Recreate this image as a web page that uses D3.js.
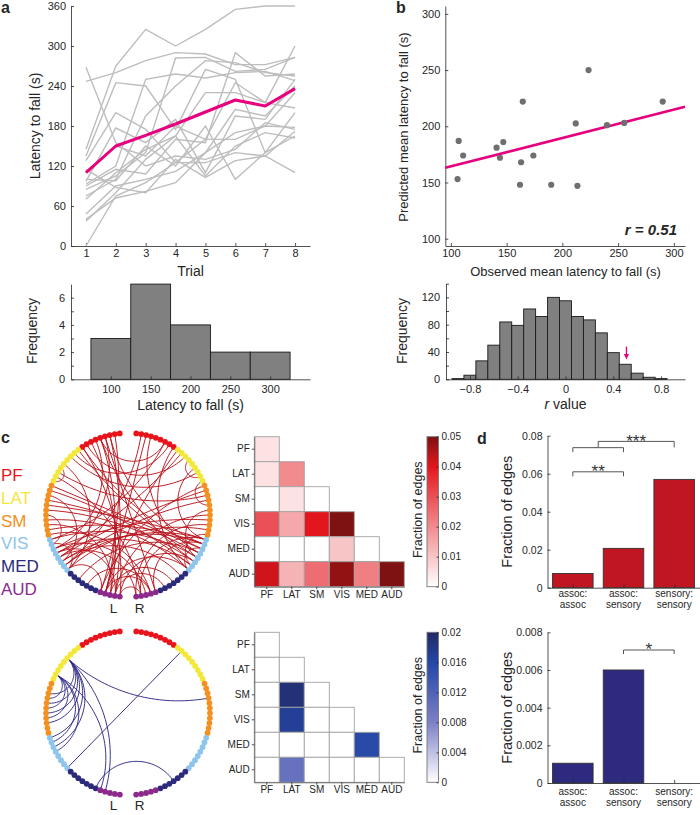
<!DOCTYPE html>
<html><head><meta charset="utf-8">
<script src="https://cdn.jsdelivr.net/npm/d3@7"></script>
<style>
body{margin:0;background:#fff;}
svg{font-family:"Liberation Sans",Arial,sans-serif;}
</style></head><body>
<svg id="fig" width="700" height="815"></svg>
<script>
// ---------------- DATA ----------------
const trials = [1,2,3,4,5,6,7,8];
const trialLatency = [
  [247,260,278,290,288,272,272,283],
  [145,270,325,300,325,355,360,360],
  [268,155,120,135,130,145,185,175],
  [135,245,240,175,265,250,140,200],
  [128,200,175,125,160,245,215,300],
  [97,177,155,190,110,195,190,250],
  [93,120,250,258,252,260,262,248],
  [90,115,108,160,155,290,255,258],
  [85,105,140,282,283,262,265,283],
  [75,100,195,240,278,275,260,255],
  [70,110,145,165,230,230,215,207],
  [48,90,100,112,140,205,195,240],
  [40,72,82,95,140,170,180,178],
  [37,80,130,165,105,150,170,162],
  [0,75,95,125,125,140,135,172],
  [115,88,80,130,103,128,135,110],
  [100,98,150,120,180,100,140,165],
  [110,150,135,180,160,160,180,230]
];
const meanLatency = [110,150,166,183,201,219,210,236];
const latencyBinEdges = [75,125,175,225,275,325];
const latencyBinCounts = [3,7,4,2,2];

const observedMean = [106,107,111,141,144,147,162,163,164.5,174,190,212,213.5,223.5,240,255.5,290];
const predictedMean = [153,187,174,181,172,186,148,168,222,174,148,202.5,147,250,201,203,222];
const fitX = [95,310];
const fitY = [163.1,217.3];
const rLabel = "r = 0.51";
const rObserved = 0.51;
const rBinCenters = [-0.9,-0.8,-0.7,-0.6,-0.5,-0.4,-0.3,-0.2,-0.1,0,0.1,0.2,0.3,0.4,0.5,0.6,0.7,0.8];
const rBinCounts = [1,6,27,50,84,79,103,92,120,115,92,87,68,39,22,9,3,1];

const regions = ["PF","LAT","SM","VIS","MED","AUD"];
const regionColors = ["#e8141c","#f3e83a","#f39020","#8ec5ec","#2c2a7c","#8c2a8c"];
const nodesPerRegion = [9,9,11,8,7,5];

const redEdges = [
"lP4 rP6",
"lP7 rT2","rP7 lT1",
"lT2 rT6","lT5 lT8","rT3 rT7",
"lT6 rS2","rT8 rS4",
"lP2 rV1","lP3 lV4","lP4 rV5","lP5 lV2","rP1 lV6","rP3 rV3","rP6 lV0","rP8 rV7","lP8 rV2",
"lT0 rV4","lT4 lV7","rT1 lV3","rT5 rV0",
"lS0 rV2","lS1 rV6","lS2 lV5","lS3 rV3","lS4 rV0","lS5 rV5","lS6 lV1","lS7 rV7","lS9 rV1","rS1 lV4","rS3 lV6","rS5 rV4","rS7 lV2","rS9 lV7","rS10 rV6",
"lV0 rV4","lV3 rV6","lV5 rV1","rV2 rV7","lV1 lV7","rV0 lV6",
"lM2 rV3","rM1 lV5",
"lA0 lP1","lA1 lP4","lA2 lP6","lA3 lP2","lA4 lP8","rA0 lP3","lA1 rP2",
"lA1 rT0","rA3 lT7",
"lA2 lS8","lA3 rS6","rA1 lS10","rA4 rS8","lA0 rS0",
"lA4 rV5","lA3 lV3","rA0 rV1","rA2 lV2","lA1 rV7","rA3 rV0","lA0 lV7","rA4 lV4",
"lA2 rM3","rA1 lM4","lA3 rM5",
"lA1 rA1","lA4 rA3"
];
const blueEdges = [
"lT3 lS2","lT3 lS4","lT3 lS6","lT3 lS8","lT7 lS3","lT7 lS5","lT7 lS7","lT3 rS3",
"lT3 lV0","lT3 lV2","lT7 lV1","lT7 lV3","rT1 lV7",
"lT7 lA0","lT3 lA1",
"lM6 rM3"
];

const redMatrix = [
  [0.005],
  [0.005,0.02],
  [0,0.005,0],
  [0.03,0.015,0.04,0.05],
  [0,0,0,0.01,0],
  [0.042,0.013,0.025,0.048,0.022,0.05]
];
const blueMatrix = [
  [0],
  [0,0],
  [0,0.019,0],
  [0,0.017,0,0],
  [0,0,0,0,0.0155],
  [0,0.01,0,0,0,0]
];
const redTicks = [0,0.01,0.02,0.03,0.04,0.05];
const blueTicks = [0,0.004,0.008,0.012,0.016,0.02];

const barCategories = [["assoc:","assoc"],["assoc:","sensory"],["sensory:","sensory"]];
const redBars = [0.0075,0.0207,0.057];
const blueBars = [0.00105,0.006,0];
const redTickVals = [0,0.02,0.04,0.06,0.08];
const blueTickVals = [0,0.002,0.004,0.006,0.008];
const redSig = [
  {x1:1,x2:2,y:0.061,drop:4.5,label:"**"},
  {x1:1,x2:2,y:0.0737,drop:4.5,label:""},
  {x1:1.5,x2:3,y:0.077,drop:6,label:"***"}
];
const blueSig = [
  {x1:2,x2:3,y:0.00706,drop:4,label:"*"}
];

// ---------------- DRAW ----------------
const svg = d3.select("#fig");
const ink = "#262626";
const magenta = "#e6007e";

function styleAxis(g, gen, fs){
  g.call(gen);
  g.attr("font-family",null).attr("font-size",null);
  g.select(".domain").attr("stroke",ink).attr("stroke-width",0.8);
  g.selectAll(".tick line").attr("stroke",ink).attr("stroke-width",0.8);
  g.selectAll(".tick text").attr("fill",ink).attr("font-size",fs);
  return g;
}
function text(x,y,t,fs,opts={}){
  const el = svg.append("text").attr("x",x).attr("y",y).attr("font-size",fs)
    .attr("fill",opts.fill||ink).attr("text-anchor",opts.anchor||"start").text(t);
  if(opts.weight) el.attr("font-weight",opts.weight);
  if(opts.style) el.attr("font-style",opts.style);
  return el;
}
function vtext(x,y,t,fs){
  return svg.append("text").attr("transform",`translate(${x},${y}) rotate(-90)`)
    .attr("text-anchor","middle").attr("dy","0.35em").attr("font-size",fs).attr("fill",ink).text(t);
}

// panel labels
text(1,13,"a",16,{weight:"bold"});
text(396,13,"b",16,{weight:"bold"});
text(1,443,"c",16,{weight:"bold"});
text(477,444,"d",16,{weight:"bold"});

// ----- Panel a -----
const xA = d3.scaleLinear([0.5,8.5],[71,310]);
const yA = d3.scaleLinear([0,360],[246,6]);
styleAxis(svg.append("g").attr("transform","translate(71,0)"),
  d3.axisLeft(yA).tickValues(d3.range(0,361,60)).tickSizeInner(-3).tickSizeOuter(0).tickPadding(5),11);
styleAxis(svg.append("g").attr("transform","translate(0,246)"),
  d3.axisBottom(xA).tickValues(trials).tickSizeInner(-3).tickSizeOuter(0).tickPadding(3),11);
const lineA = d3.line().x((d,i)=>xA(trials[i])).y(d=>yA(d));
svg.append("g").selectAll("path").data(trialLatency).join("path")
  .attr("d",lineA).attr("fill","none").attr("stroke","#bdbdbd").attr("stroke-width",1.4);
svg.append("path").datum(meanLatency).attr("d",lineA).attr("fill","none")
  .attr("stroke",magenta).attr("stroke-width",3).attr("stroke-linejoin","round");
vtext(35,126,"Latency to fall (s)",14);
text(190.5,276,"Trial",14,{anchor:"middle"});

// histogram a
const xH = d3.scaleLinear([50,350],[71,310]);
const yH = d3.scaleLinear([0,7],[379.3,284.1]);
svg.append("g").selectAll("rect").data(latencyBinCounts).join("rect")
  .attr("x",(d,i)=>xH(latencyBinEdges[i])).attr("width",(d,i)=>xH(latencyBinEdges[i+1])-xH(latencyBinEdges[i]))
  .attr("y",d=>yH(d)).attr("height",d=>yH(0)-yH(d))
  .attr("fill","#808080").attr("stroke","#1a1a1a").attr("stroke-width",0.9);
styleAxis(svg.append("g").attr("transform","translate(71,0)"),
  d3.axisLeft(yH).tickValues(d3.range(0,7)).tickFormat(d=>d%2===0?d:"").tickSizeInner(-3).tickSizeOuter(0).tickPadding(6),11);
styleAxis(svg.append("g").attr("transform","translate(0,379.3)"),
  d3.axisBottom(xH).tickValues([100,150,200,250,300]).tickSizeInner(-3).tickSizeOuter(0).tickPadding(6),11);
vtext(32,331,"Frequency",14);
text(190.5,410,"Latency to fall (s)",14,{anchor:"middle"});

// ----- Panel b -----
const xB = d3.scaleLinear([95,310],[445.3,685]);
const yB = d3.scaleLinear([93.5,307],[246,6]);
styleAxis(svg.append("g").attr("transform","translate(445.3,0)"),
  d3.axisLeft(yB).tickValues([100,150,200,250,300]).tickSizeInner(-3).tickSizeOuter(0).tickPadding(5),11);
styleAxis(svg.append("g").attr("transform","translate(0,246)"),
  d3.axisBottom(xB).tickValues([100,150,200,250,300]).tickSizeInner(-3).tickSizeOuter(0).tickPadding(3),11);
svg.append("line").attr("x1",xB(fitX[0])).attr("y1",yB(fitY[0])).attr("x2",xB(fitX[1])).attr("y2",yB(fitY[1]))
  .attr("stroke",magenta).attr("stroke-width",2.6);
svg.append("g").selectAll("circle").data(observedMean).join("circle")
  .attr("cx",d=>xB(d)).attr("cy",(d,i)=>yB(predictedMean[i])).attr("r",3.1).attr("fill","#6f6f6f");
text(677,235,rLabel,15,{anchor:"end",weight:"bold",style:"italic"});
vtext(403,127,"Predicted mean latency to fall (s)",13);
text(565.5,276,"Observed mean latency to fall (s)",13,{anchor:"middle"});

// histogram b
const xR = d3.scaleLinear([-1,1],[446,685]);
const yR = d3.scaleLinear([0,140],[379.3,283.7]);
svg.append("g").selectAll("rect").data(rBinCounts).join("rect")
  .attr("x",(d,i)=>xR(rBinCenters[i]-0.05)).attr("width",(d,i)=>xR(rBinCenters[i]+0.05)-xR(rBinCenters[i]-0.05))
  .attr("y",d=>yR(d)).attr("height",d=>yR(0)-yR(d))
  .attr("fill","#808080").attr("stroke","#1a1a1a").attr("stroke-width",0.9);
styleAxis(svg.append("g").attr("transform","translate(446,0)"),
  d3.axisLeft(yR).tickValues(d3.range(0,141,20)).tickFormat(d=>d%40===0?d:"").tickSizeInner(-3).tickSizeOuter(0).tickPadding(6),11);
styleAxis(svg.append("g").attr("transform","translate(0,379.3)"),
  d3.axisBottom(xR).tickValues([-0.8,-0.4,0,0.4,0.8]).tickFormat(d=>d===0?"0":d3.format(".1f")(d).replace("-","\u2212")).tickSizeInner(-3).tickSizeOuter(0).tickPadding(6),11);
vtext(402,331,"Frequency",14);
{
  const t = text(565.5,409,"",14,{anchor:"middle"});
  t.append("tspan").attr("font-style","italic").text("r");
  t.append("tspan").text(" value");
}
// arrow
{
  const ax = xR(rObserved);
  svg.append("line").attr("x1",ax).attr("x2",ax).attr("y1",346.5).attr("y2",355).attr("stroke",magenta).attr("stroke-width",1.3);
  svg.append("path").attr("d",`M${ax-2.6},${354} L${ax+2.6},${354} L${ax},${359.5} Z`).attr("fill",magenta);
}

// ----- Panel c: circular graphs -----
const regionCode = {P:0,T:1,S:2,V:3,M:4,A:5};
const startDeg = 5.8, stepDeg = 3.51;
const regionOffset = nodesPerRegion.map((n,i)=>d3.sum(nodesPerRegion.slice(0,i)));
function unitPos(hemi, r, k){
  const a = (startDeg + (regionOffset[r]+k)*stepDeg)*Math.PI/180;
  return [(hemi==="l"?-1:1)*Math.sin(a), -Math.cos(a)];
}
function parseNode(s){ return unitPos(s[0], regionCode[s[1]], +s.slice(2)); }
function arcPoints(p1,p2){
  const d = p1[0]*p2[0]+p1[1]*p2[1];
  const cr = p1[0]*p2[1]-p1[1]*p2[0];
  if (1+d < 0.01 || Math.abs(cr) < 0.02 && d < 0) return [p1,p2];
  const c = [(p1[0]+p2[0])/(1+d),(p1[1]+p2[1])/(1+d)];
  const r = Math.sqrt(Math.max(0,(1-d)/(1+d)));
  const a1 = Math.atan2(p1[1]-c[1],p1[0]-c[0]);
  let a2 = Math.atan2(p2[1]-c[1],p2[0]-c[0]);
  let da = a2-a1;
  while(da > Math.PI) da -= 2*Math.PI;
  while(da < -Math.PI) da += 2*Math.PI;
  const pts = [];
  const n = 40;
  for(let i=0;i<=n;i++){ const a = a1+da*i/n; pts.push([c[0]+r*Math.cos(a), c[1]+r*Math.sin(a)]); }
  return pts;
}
function drawCircle(cx, cy, R, edges, edgeColor, lrY){
  const g = svg.append("g").attr("transform",`translate(${cx},${cy})`);
  const line = d3.line().x(d=>d[0]*R).y(d=>d[1]*R);
  g.append("g").selectAll("path").data(edges).join("path")
    .attr("d",e=>{ const [a,b] = e.split(" "); return line(arcPoints(parseNode(a),parseNode(b))); })
    .attr("fill","none").attr("stroke",edgeColor).attr("stroke-width",0.95);
  const nodes = [];
  ["l","r"].forEach(h=>nodesPerRegion.forEach((n,r)=>d3.range(n).forEach(k=>nodes.push({h,r,k}))));
  g.append("g").selectAll("circle").data(nodes).join("circle")
    .attr("cx",d=>unitPos(d.h,d.r,d.k)[0]*R).attr("cy",d=>unitPos(d.h,d.r,d.k)[1]*R)
    .attr("r",2.9).attr("fill",d=>regionColors[d.r]);
  text(cx-14.5,lrY,"L",13.5,{anchor:"middle"});
  text(cx+11.5,lrY,"R",13.5,{anchor:"middle"});
}
drawCircle(128,515,82,redEdges,"#b8141c",613);
drawCircle(128,713,82,blueEdges,"#2e2a86",810);

// legend
regions.forEach((r,i)=>{
  text(1,481+i*22.8,r,17,{fill:regionColors[i]});
});

// ----- matrices -----
function drawMatrix(x0,y0,vals,color,ticks){
  const band = d3.scaleBand(regions,[x0,x0+150]);
  const bandY = d3.scaleBand(regions,[y0,y0+150]);
  const cells = [];
  vals.forEach((row,i)=>row.forEach((v,j)=>cells.push({i,j,v})));
  svg.append("g").selectAll("rect").data(cells).join("rect")
    .attr("x",d=>band(regions[d.j])).attr("y",d=>bandY(regions[d.i]))
    .attr("width",band.bandwidth()).attr("height",bandY.bandwidth())
    .attr("fill",d=>color(d.v)).attr("stroke","#a3a3a3").attr("stroke-width",0.9);
  const ga = svg.append("g").attr("transform",`translate(${x0},0)`);
  styleAxis(ga, d3.axisLeft(bandY).tickSizeInner(2.5).tickSizeOuter(0).tickPadding(2),10);
  ga.select(".domain").attr("stroke","#555");
  const gb = svg.append("g").attr("transform",`translate(0,${y0+150})`);
  styleAxis(gb, d3.axisBottom(band).tickSizeInner(2.5).tickSizeOuter(0).tickPadding(1.5),10);
  gb.select(".domain").attr("stroke","#555");
  // colorbar
  const max = ticks[ticks.length-1];
  const id = "grad"+Math.round(y0);
  const grad = svg.append("defs").append("linearGradient").attr("id",id)
    .attr("x1",0).attr("y1",1).attr("x2",0).attr("y2",0);
  d3.range(0,1.0001,0.05).forEach(t=>grad.append("stop").attr("offset",t).attr("stop-color",color(t*max)));
  const cbX = 427, cbW = 11.5;
  svg.append("rect").attr("x",cbX).attr("y",y0).attr("width",cbW).attr("height",150)
    .attr("fill",`url(#${id})`).attr("stroke","#777").attr("stroke-width",0.9);
  const yc = d3.scaleLinear([0,max],[y0+150,y0]);
  const gc = svg.append("g").attr("transform",`translate(${cbX+cbW},0)`);
  styleAxis(gc, d3.axisRight(yc).tickValues(ticks).tickFormat(d=>d===0?"0":String(+d.toFixed(3))).tickSizeInner(-2).tickSizeOuter(0).tickPadding(3),10);
  gc.select(".domain").remove();
  vtext(418,y0+73,"Fraction of edges",12.5);
}
const redScale = d3.scaleLinear().domain([0,0.04,0.05]).range(["#ffffff","#e3161d","#7e1111"]).clamp(true);
const blueScale = d3.scaleLinear().domain([0,0.008,0.016,0.02]).range(["#ffffff","#7c80c6","#2446a6","#222a66"]).clamp(true);
drawMatrix(254.3,436.7,redMatrix,redScale,redTicks);
drawMatrix(254.3,632.3,blueMatrix,blueScale,blueTicks);

// ----- Panel d: bar charts -----
const xD = d3.scaleLinear([0.5,3.5],[547.5,699.5]);
function drawBars(vals,yScale,tickVals,color,sig,labelY){
  svg.append("g").selectAll("rect").data(vals).join("rect")
    .attr("x",(d,i)=>xD(i+1-0.4)).attr("width",xD(1.4)-xD(0.6))
    .attr("y",d=>yScale(d)).attr("height",d=>yScale(0)-yScale(d))
    .attr("fill",color).attr("stroke",d=>d>0?"#333":"none").attr("stroke-width",0.9);
  styleAxis(svg.append("g").attr("transform","translate(547.5,0)"),
    d3.axisLeft(yScale).tickValues(tickVals).tickFormat(d=>d===0?"0":String(d)).tickSizeInner(-3).tickSizeOuter(0).tickPadding(5),10.5);
  const gx = svg.append("g").attr("transform",`translate(0,${yScale(0)})`);
  styleAxis(gx, d3.axisBottom(xD).tickValues([1,2,3]).tickFormat("").tickSizeInner(-3).tickSizeOuter(0),10);
  barCategories.forEach((lines,i)=>{
    lines.forEach((l,j)=>text(xD(i+1),labelY+j*11.8,l,10,{anchor:"middle"}));
  });
  sig.forEach(s=>{
    const y = yScale(s.y), xa = xD(s.x1), xb = xD(s.x2);
    svg.append("path").attr("d",`M${xa},${y+s.drop} L${xa},${y} L${xb},${y} L${xb},${y+s.drop}`)
      .attr("fill","none").attr("stroke","#555").attr("stroke-width",1);
    if(s.label) text((xa+xb)/2,y+5.3,s.label,17,{anchor:"middle"}).attr("fill","#333");
  });
  vtext(506.7,(yScale.range()[0]+yScale.range()[1])/2,"Fraction of edges",14.5);
}
drawBars(redBars,d3.scaleLinear([0,0.08],[587.7,435.7]),redTickVals,"#bf1622",redSig,596.5);
drawBars(blueBars,d3.scaleLinear([0,0.008],[783,632.3]),blueTickVals,"#2e2a80",blueSig,794.5);
</script>
</body></html>
